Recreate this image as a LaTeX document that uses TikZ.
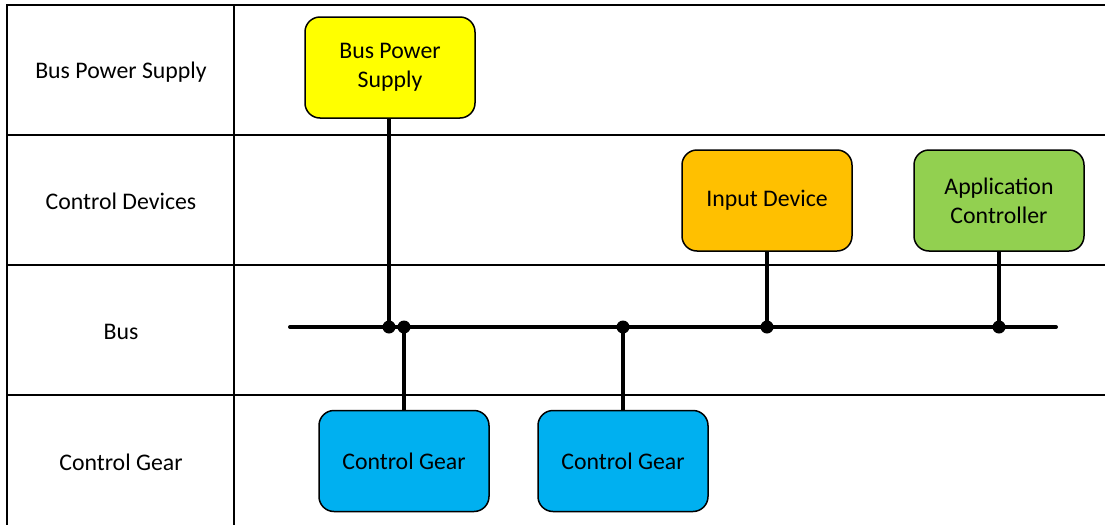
\documentclass[tikz,border=0pt]{standalone}
\usepackage{fontspec}
\setmainfont{Carlito}
\usepackage{xcolor}
\usepackage{tikz}
\usetikzlibrary{positioning}
\definecolor{gelb}{HTML}{FFFF00}
\definecolor{orange}{HTML}{FFC000}
\definecolor{gruen}{HTML}{92D050}
\definecolor{blau}{HTML}{00B0F0}
\tikzset{
  Geraet/.style={draw,line width=.75pt,rounded corners=7.5pt,
    minimum width=85pt,minimum height=50.5pt,align=center,inner sep=0pt}, % Kaesten
  Leitung/.style={line width=2pt}, % Busleitungen
  Punkt/.style={circle,fill,inner sep=0pt,minimum size=6.5pt}, % Knotenpunkte
  Gitter/.style={line width=.9pt} % Tabellenlinien
}
\begin{document}
\begin{tikzpicture}[x=.5pt,y=-.5pt,
font=\fontsize{11.9}{14.5}\selectfont
]
\useasboundingbox (0,0) rectangle (1105,525);

%Tabelle
\draw[Gitter] (7,525) -- (7,5) -- (1105,5);
\draw[Gitter] (234,5) -- (234,525);
\foreach \y in {135,265,395}
  \draw[Gitter] (7,\y) -- (1105,\y);

%Zeilenbeschriftung
\node (zBPS) at (121,72) {Bus Power Supply};
\node (zCD)  at (121,201) {Control Devices};
\node (zBus) at (121,332) {Bus};
\node (zCG)  at (121,462) {Control Gear};

%Geraete
\node[Geraet,fill=gelb]   (BPS) at (390,67.5)  {Bus Power\\Supply};
\node[Geraet,fill=orange] (ID)  at (767,200.5) {\raisebox{-1pt}{Input Device}};
\node[Geraet,fill=gruen]  (AC)  at (999,200.5) {Application\\Controller};
\node[Geraet,fill=blau]   (CG1) at (404,461)   {\raisebox{-1pt}{Control Gear}};
\node[Geraet,fill=blau]   (CG2) at (623,461)   {\raisebox{-1pt}{Control Gear}};

%Bus
\coordinate (busL) at (290,327);
\coordinate (busR) at (1056,327);
\draw[Leitung,line cap=round] (busL) -- (busR);

%Anschlusspunkte
\node[Punkt] (pBPS) at (389,327) {};
\node[Punkt] (pCG1) at (404,327) {};
\node[Punkt] (pCG2) at (623,327) {};
\node[Punkt] (pID)  at (767,327) {};
\node[Punkt] (pAC)  at (999,327) {};

%Leitungen
\draw[Leitung] (BPS.south -| pBPS) -- (pBPS.center);
\draw[Leitung] (CG1.north) -- (pCG1.center);
\draw[Leitung] (CG2.north) -- (pCG2.center);
\draw[Leitung] (ID.south) -- (pID.center);
\draw[Leitung] (AC.south) -- (pAC.center);

\end{tikzpicture}
\end{document}
